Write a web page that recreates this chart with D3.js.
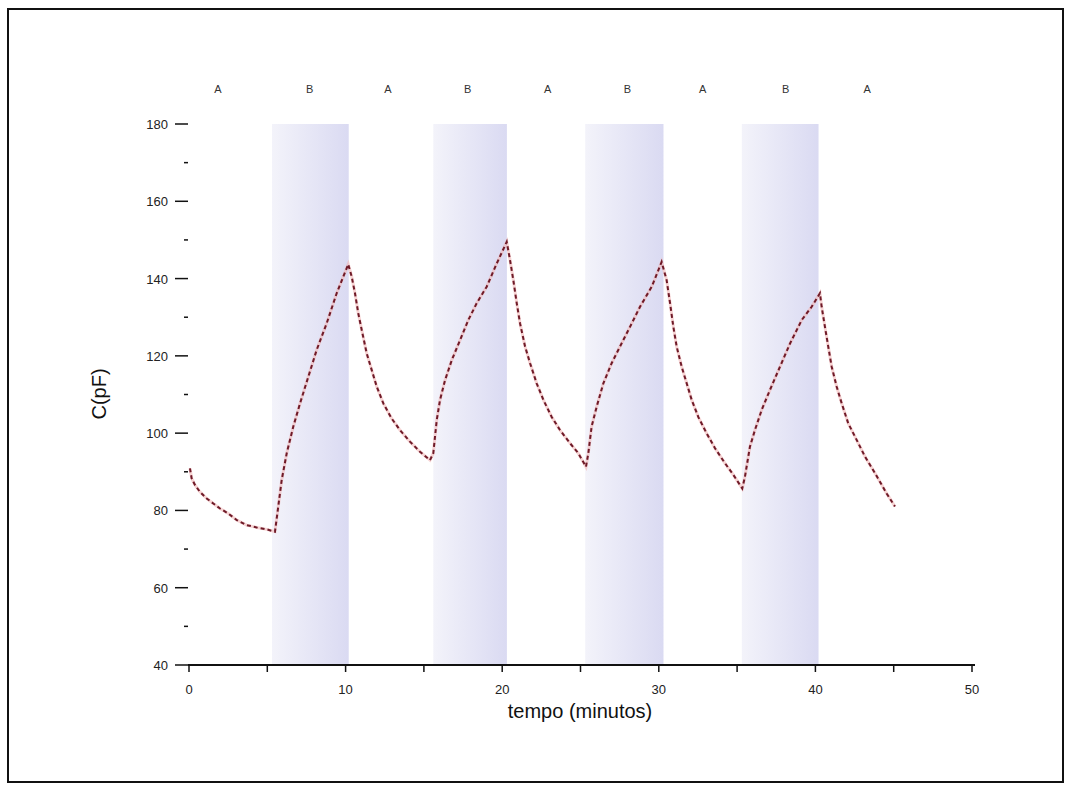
<!DOCTYPE html>
<html><head><meta charset="utf-8">
<script src="https://cdn.jsdelivr.net/npm/d3@7"></script>
<style>body{margin:0;background:#fff}svg{display:block}</style>
</head><body>
<svg id="c" width="1072" height="791"></svg>
<script>
// ---- data ----
const timeMin = [
  0.06,0.17,0.38,0.70,1.13,1.55,1.98,2.51,3.05,3.68,4.32,4.96,5.49,
  5.70,5.92,6.24,6.66,7.09,7.62,8.15,8.79,9.43,10.17,
  10.39,10.6,10.81,11.03,11.35,11.67,11.99,12.41,12.94,13.47,14.11,14.75,15.39,
  15.6,15.82,16.03,16.35,16.78,17.31,17.84,18.37,19.01,19.65,20.29,
  20.5,20.71,20.93,21.14,21.46,21.78,22.2,22.63,23.16,23.69,24.33,24.86,25.35,
  25.5,25.71,26.03,26.46,26.99,27.52,28.16,28.8,29.55,30.18,
  30.5,30.72,30.93,31.14,31.46,31.78,32.1,32.52,33.06,33.59,34.23,34.76,35.33,
  35.5,35.82,36.14,36.57,37.1,37.74,38.38,39.13,39.76,40.29,
  40.4,40.61,40.82,41.04,41.36,41.68,42.1,42.64,43.17,43.81,44.55,45.08];
const capPF = [
  90.9,88.3,86.6,84.8,83.1,81.8,80.5,79.2,77.5,76.2,75.6,75.1,74.5,
  81.0,87.9,94.8,101.7,107.7,114.6,121.5,128.4,136.2,143.7,
  140.5,136.2,131.0,126.7,120.6,116.3,112.0,107.7,103.8,100.8,97.8,95.2,93.0,
  94.8,103.4,108.6,113.7,118.9,124.1,129.3,133.6,137.9,143.9,149.5,
  144.8,139.6,133.6,128.4,122.4,118.1,112.9,108.6,104.2,100.8,97.4,94.8,91.3,
  94.8,101.7,106.8,112.9,118.1,122.4,127.5,132.7,137.9,144.3,
  139.6,133.6,127.5,122.4,117.2,112.9,108.6,104.2,99.9,96.1,92.2,89.2,85.7,
  88.7,96.5,100.8,106.0,111.2,117.2,123.2,129.3,132.7,136.2,
  132.7,127.5,122.4,117.2,112.0,107.7,102.5,98.2,93.9,89.6,84.4,81.0];
const bStart = [5.3,15.6,25.3,35.3];
const bEnd   = [10.2,20.3,30.3,40.2];
const phaseLabels = ["A","B","A","B","A","B","A","B","A"];
const phasePos    = [1.85,7.7,12.7,17.8,22.9,28.0,32.8,38.1,43.3];
const xTicks = [0,10,20,30,40,50];
const xMinor = [5,15,25,35,45];
const yTicks = [40,60,80,100,120,140,160,180];
const yMinor = [50,70,90,110,130,150,170];

// ---- chart ----
const svg = d3.select("#c");
const x = d3.scaleLinear().domain([0,50]).range([189,972]);
const y = d3.scaleLinear().domain([40,180]).range([665,124]);
const font = "Liberation Sans, Arial, sans-serif";

svg.append("rect").attr("x",8).attr("y",9).attr("width",1055).attr("height",773)
  .attr("fill","none").attr("stroke","#111").attr("stroke-width",2);

const defs = svg.append("defs");
const g = defs.append("linearGradient").attr("id","shade").attr("x1","0").attr("x2","1").attr("y1","0").attr("y2","0");
g.append("stop").attr("offset","0").attr("stop-color","#f3f3fa");
g.append("stop").attr("offset","1").attr("stop-color","#dadaf2");

svg.selectAll("rect.b").data(bStart).join("rect").attr("class","b")
  .attr("x",(d)=>x(d)).attr("width",(d,i)=>x(bEnd[i])-x(d))
  .attr("y",y(180)).attr("height",y(40)-y(180)).attr("fill","url(#shade)");

// x axis
svg.append("line").attr("x1",x(0)-1).attr("x2",x(50)+3).attr("y1",y(40)).attr("y2",y(40))
  .attr("stroke","#111").attr("stroke-width",2);
svg.selectAll("line.xt").data(xTicks.concat(xMinor)).join("line").attr("class","xt")
  .attr("x1",d=>x(d)).attr("x2",d=>x(d)).attr("y1",y(40)).attr("y2",y(40)+7)
  .attr("stroke","#111").attr("stroke-width",1.5);
svg.selectAll("text.xl").data(xTicks).join("text").attr("class","xl")
  .attr("x",d=>x(d)).attr("y",y(40)+29).attr("text-anchor","middle")
  .attr("font-family",font).attr("font-size",13).attr("fill","#222").text(d=>d);

// y axis ticks
svg.selectAll("line.yt").data(yTicks).join("line").attr("class","yt")
  .attr("x1",175).attr("x2",188).attr("y1",d=>y(d)).attr("y2",d=>y(d))
  .attr("stroke","#111").attr("stroke-width",1.5);
svg.selectAll("line.ym").data(yMinor).join("line").attr("class","ym")
  .attr("x1",184).attr("x2",188).attr("y1",d=>y(d)).attr("y2",d=>y(d))
  .attr("stroke","#111").attr("stroke-width",1.5);
svg.selectAll("text.yl").data(yTicks).join("text").attr("class","yl")
  .attr("x",168).attr("y",d=>y(d)+5).attr("text-anchor","end")
  .attr("font-family",font).attr("font-size",13).attr("fill","#222").text(d=>d);

// phase labels
svg.selectAll("text.ph").data(phaseLabels).join("text").attr("class","ph")
  .attr("x",(d,i)=>x(phasePos[i])).attr("y",93).attr("text-anchor","middle")
  .attr("font-family",font).attr("font-size",11).attr("fill","#333").text(d=>d);

// axis titles
svg.append("text").attr("transform","translate(106,394) rotate(-90)").attr("text-anchor","middle")
  .attr("font-family",font).attr("font-size",20).attr("fill","#111").text("C(pF)");
svg.append("text").attr("x",580).attr("y",718).attr("text-anchor","middle")
  .attr("font-family",font).attr("font-size",20).attr("fill","#111").text("tempo (minutos)");

// curve
const pts = timeMin.map((t,i)=>[t,capPF[i]]);
const line = d3.line().x(d=>x(d[0])).y(d=>y(d[1]));
svg.append("path").attr("d",line(pts)).attr("fill","none")
  .attr("stroke","#f2b8b8").attr("stroke-width",3).attr("opacity",0.6);
svg.append("path").attr("d",line(pts)).attr("fill","none")
  .attr("stroke","#6e1a28").attr("stroke-width",2).attr("stroke-dasharray","4,3");
</script>
</body></html>
